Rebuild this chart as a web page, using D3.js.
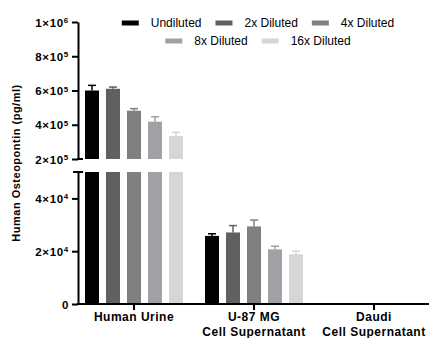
<!DOCTYPE html>
<html>
<head>
<meta charset="utf-8">
<script src="https://cdn.jsdelivr.net/npm/d3@7"></script>
<style>
  body { margin: 0; background: #fff; }
  svg { display: block; font-family: "Liberation Sans", Arial, sans-serif; }
  .axis path, .axis line { stroke: #000; stroke-width: 2; }
  .tick-label { font-size: 11.5px; font-weight: bold; letter-spacing: 0.7px; }
</style>
</head>
<body>
<svg width="429" height="338"></svg>
<script>
const groups = ["Human Urine", "U-87 MG\nCell Supernatant", "Daudi\nCell Supernatant"];
const series = ["Undiluted", "2x Diluted", "4x Diluted", "8x Diluted", "16x Diluted"];
const colors = ["#000000", "#606060", "#808080", "#a1a1a5", "#d6d6d6"];

// mean values per group, one entry per dilution
const humanUrine = [600000, 610000, 482000, 418000, 334000];
const humanUrineErr = [30000, 10000, 12000, 29000, 22000];
const u87 = [25800, 27100, 29400, 20700, 18800];
const u87Err = [800, 2600, 2400, 1200, 1200];
const daudi = [0, 0, 0, 0, 0];
const daudiErr = [0, 0, 0, 0, 0];

const upperTicks = [200000, 400000, 600000, 800000, 1000000];
const lowerTicks = [0, 20000, 40000];

const means = [humanUrine, u87, daudi];
const errs = [humanUrineErr, u87Err, daudiErr];

const svg = d3.select("svg");

const axisX = 78;
const yTop = d3.scaleLinear().domain([200000, 1000000]).range([159, 22]);
const yBot = d3.scaleLinear().domain([0, 50000]).range([304, 172]);

const x = d3.scaleBand().domain(groups).range([74, 434]);
const xInner = d3.scaleBand().domain(series).range([-49, 49]).paddingInner(1 / 3);

const supFmt = (d) => {
	if (d === 0) return ["0", ""];
	const e = Math.floor(Math.log10(d));
	const m = Math.round(d / Math.pow(10, e));
	return [m + "\u00d710", String(e)];
};

const drawAxis = (scale, ticks) => {
	const g = svg.append("g")
		.attr("class", "axis")
		.attr("transform", `translate(${axisX},0)`)
		.call(d3.axisLeft(scale).tickValues(ticks).tickSize(6).tickSizeOuter(0).tickFormat(""));
	g.selectAll(".tick text").remove();
	g.selectAll(".tick").each(function (d) {
		const [base, sup] = supFmt(d);
		const t = d3.select(this).append("text")
			.attr("class", "tick-label")
			.attr("x", -9)
			.attr("dy", "0.36em")
			.attr("text-anchor", "end")
			.attr("fill", "#000");
		t.append("tspan").text(base);
		if (sup) {
			t.append("tspan").attr("dy", "-0.45em").attr("font-size", "8px").text(sup);
		}
	});
	return g;
};

drawAxis(yTop, upperTicks);
drawAxis(yBot, lowerTicks);

// break caps on the y axis
svg.append("line").attr("x1", axisX - 1).attr("x2", axisX + 5)
	.attr("y1", yTop(200000)).attr("y2", yTop(200000)).attr("stroke", "#000").attr("stroke-width", 2);
svg.append("line").attr("x1", axisX - 5).attr("x2", axisX + 5)
	.attr("y1", yBot(50000)).attr("y2", yBot(50000)).attr("stroke", "#000").attr("stroke-width", 2);

// bars
const barData = [];
groups.forEach((gName, gi) => {
	series.forEach((s, si) => {
		barData.push({ group: gName, s, si, v: means[gi][si], e: errs[gi][si] });
	});
});

const barX = (d) => x(d.group) + x.bandwidth() / 2 + xInner(d.s);
const bw = xInner.bandwidth();
const botHi = yBot.domain()[1];

const barsG = svg.append("g");
barData.filter((d) => d.v > 0).forEach((d) => {
	const col = colors[d.si];
	// lower segment
	const yb = Math.max(yBot(Math.min(d.v, botHi)), yBot(botHi));
	barsG.append("rect")
		.attr("x", barX(d)).attr("width", bw)
		.attr("y", yb).attr("height", yBot(0) - yb)
		.attr("fill", col);
	let sc = yBot;
	if (d.v > yTop.domain()[0]) {
		sc = yTop;
		barsG.append("rect")
			.attr("x", barX(d)).attr("width", bw)
			.attr("y", yTop(d.v)).attr("height", yTop(yTop.domain()[0]) - yTop(d.v))
			.attr("fill", col);
	}
	if (d.e > 0) {
		const cx = barX(d) + bw / 2;
		barsG.append("line")
			.attr("x1", cx).attr("x2", cx)
			.attr("y1", sc(d.v)).attr("y2", sc(d.v + d.e))
			.attr("stroke", col).attr("stroke-width", 1.5);
		barsG.append("line")
			.attr("x1", cx - 4).attr("x2", cx + 4)
			.attr("y1", sc(d.v + d.e)).attr("y2", sc(d.v + d.e))
			.attr("stroke", col).attr("stroke-width", 1.5);
	}
});

// x axis
const xAxisG = svg.append("g").attr("class", "axis")
	.attr("transform", `translate(0,${yBot(0)})`);
xAxisG.append("line").attr("x1", axisX - 1).attr("x2", 429).attr("y1", 0).attr("y2", 0);
groups.forEach((gName) => {
	const cx = x(gName) + x.bandwidth() / 2;
	xAxisG.append("line").attr("x1", cx).attr("x2", cx).attr("y1", 0).attr("y2", 6);
	const t = xAxisG.append("text")
		.attr("text-anchor", "middle")
		.attr("font-size", "12px")
		.attr("font-weight", "bold")
		.attr("letter-spacing", "0.5px")
		.attr("fill", "#000");
	gName.split("\n").forEach((line, i) => {
		t.append("tspan").attr("x", cx).attr("y", 17 + i * 15).text(line);
	});
});

// y axis title
svg.append("text")
	.attr("transform", `translate(20,163) rotate(-90)`)
	.attr("text-anchor", "middle")
	.attr("font-size", "11px")
	.attr("font-weight", "bold")
	.attr("letter-spacing", "0.5px")
	.attr("fill", "#000")
	.text("Human Osteopontin (pg/ml)");

// legend
const legendRows = [[0, 1, 2], [3, 4]];
const legendG = svg.append("g");
legendRows.forEach((row, ri) => {
	const rowG = legendG.append("g");
	let cur = 0;
	row.forEach((si) => {
		const item = rowG.append("g").attr("transform", `translate(${cur},0)`);
		item.append("rect").attr("x", 0).attr("y", -2.5).attr("width", 17).attr("height", 5)
			.attr("fill", colors[si]);
		const t = item.append("text").attr("x", 29).attr("dy", "0.35em")
			.attr("font-size", "12px").attr("fill", "#000").text(series[si]);
		cur += 29 + t.node().getComputedTextLength() + 14;
	});
	const w = cur - 14;
	rowG.attr("transform", `translate(${258 - w / 2},${23 + ri * 18})`);
});
</script>
</body>
</html>
